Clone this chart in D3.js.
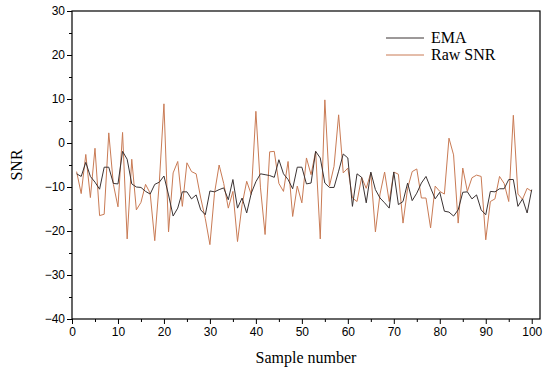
<!DOCTYPE html>
<html>
<head>
<meta charset="utf-8">
<script src="https://cdn.jsdelivr.net/npm/d3@7.9.0/dist/d3.min.js"></script>
<style>
  body { margin: 0; background: #fff; }
  svg { display: block; }
  .tick text { font-family: "Liberation Sans", Arial, sans-serif; font-size: 12px; fill: #000; }
  .title { font-family: "Liberation Serif", "DejaVu Serif", serif; font-size: 16px; fill: #000; }
</style>
</head>
<body>
<svg id="chart" width="550" height="375"></svg>
<script>
// sample numbers 1..100
const samples = d3.range(1, 101);

const rawSNR = [
  -6.5, -11.5, -2.6, -12.4, -1.2, -16.5, -16.2, 2.3, -9.4, -14.5,
  2.4, -21.8, -3.7, -15.2, -13.5, -9.4, -11.4, -22.2, -8.8, 8.9,
  -20.2, -6.8, -4.2, -14.4, -4.5, -6.5, -7.0, -12.5, -17.2, -23.1,
  -11.4, -5.0, -9.2, -14.8, -11.0, -22.4, -14.0, -8.7, -11.7, 7.2,
  -10.2, -20.8, -2.0, -1.9, -9.2, -11.0, -4.2, -16.7, -9.8, -13.6,
  -3.4, -7.2, -1.9, -21.8, 9.8, -9.8, -5.3, 6.4, -6.8, -5.7,
  -12.5, -13.3, -7.8, -10.3, -6.8, -20.2, -11.6, -6.6, -13.3, -6.6,
  -7.1, -18.2, -10.3, -6.5, -5.9, -12.5, -12.5, -19.3, -9.8, -11.0,
  -11.6, 1.1, -2.7, -18.2, -5.7, -11.0, -7.9, -7.3, -7.6, -22.0,
  -13.3, -12.7, -7.6, -9.2, -13.3, 6.3, -11.6, -12.8, -10.3, -11.0
];

const ema = [
  -7.0, -7.6, -4.4, -7.6, -8.9, -10.5, -5.5, -5.5, -9.2, -9.3,
  -1.9, -3.7, -9.3, -10.0, -10.1, -11.0, -11.6, -9.4, -8.9, -7.5,
  -11.8, -16.6, -14.8, -11.1, -11.1, -12.7, -11.8, -15.2, -16.3, -10.9,
  -11.1, -10.6, -10.2, -12.9, -8.3, -14.8, -12.5, -15.9, -11.4, -8.8,
  -7.0, -7.2, -7.4, -7.8, -3.8, -7.0, -8.3, -10.4, -5.5, -5.5,
  -9.3, -9.1, -1.9, -3.4, -9.1, -10.1, -10.1, -6.4, -2.5, -3.4,
  -14.4, -7.0, -7.8, -13.6, -6.6, -10.6, -12.5, -13.6, -14.8, -6.6,
  -14.0, -13.3, -9.1, -13.1, -11.4, -9.1, -7.6, -10.2, -12.7, -11.2,
  -15.5, -15.7, -16.6, -15.2, -11.2, -11.1, -12.7, -11.8, -15.2, -16.3,
  -11.0, -11.1, -10.4, -10.4, -8.3, -8.3, -14.4, -12.7, -15.9, -10.6
];

const xTicks = d3.range(0, 101, 10);
const yTicks = d3.range(-40, 31, 10);
const seriesNames = ["EMA", "Raw SNR"];
const seriesColors = ["#3b3333", "#c97b55"];

const svg = d3.select("#chart");
const margin = { left: 72, right: 10, top: 11, bottom: 56 };
const W = 550, H = 375;

const x = d3.scaleLinear().domain([0, 101.8]).range([margin.left, W - margin.right]);
const y = d3.scaleLinear().domain([-40, 30]).range([H - margin.bottom, margin.top]);

// x axis with minor ticks
svg.append("g")
  .attr("transform", `translate(0,${y(-40)})`)
  .call(d3.axisBottom(x).tickValues(d3.range(5, 101, 10)).tickSize(3).tickFormat(""))
  .call(g => g.select(".domain").remove());
svg.append("g")
  .attr("transform", `translate(0,${y(-40)})`)
  .call(d3.axisBottom(x).tickValues(xTicks).tickSize(5).tickPadding(3))
  .call(g => g.select(".domain").remove());

// y axis with minor ticks
svg.append("g")
  .attr("transform", `translate(${x(0)},0)`)
  .call(d3.axisLeft(y).tickValues(d3.range(-35, 30, 10)).tickSize(3).tickFormat(""))
  .call(g => g.select(".domain").remove());
svg.append("g")
  .attr("transform", `translate(${x(0)},0)`)
  .call(d3.axisLeft(y).tickValues(yTicks).tickSize(5).tickPadding(2))
  .call(g => g.select(".domain").remove());

// frame
svg.append("rect")
  .attr("x", x(0)).attr("y", y(30))
  .attr("width", x(101.8) - x(0)).attr("height", y(-40) - y(30))
  .attr("fill", "none").attr("stroke", "#000").attr("stroke-width", 1.2);

const line = d3.line().x((d, i) => x(samples[i])).y(d => y(d));

svg.append("path").datum(rawSNR)
  .attr("d", line).attr("fill", "none")
  .attr("stroke", seriesColors[1]).attr("stroke-width", 1);
svg.append("path").datum(ema)
  .attr("d", line).attr("fill", "none")
  .attr("stroke", seriesColors[0]).attr("stroke-width", 1);

// legend
const leg = svg.append("g");
seriesNames.forEach((name, i) => {
  const ly = 38 + i * 17;
  leg.append("line").attr("x1", 386).attr("x2", 424).attr("y1", ly).attr("y2", ly)
    .attr("stroke", seriesColors[i]).attr("stroke-width", 1);
  leg.append("text").attr("class", "title").attr("x", 431).attr("y", ly + 5).text(name);
});

// axis titles
svg.append("text").attr("class", "title")
  .attr("x", (x(0) + x(101.8)) / 2).attr("y", 363)
  .attr("text-anchor", "middle").text("Sample number");
svg.append("text").attr("class", "title")
  .attr("transform", `translate(22,${y(-5)}) rotate(-90)`)
  .attr("text-anchor", "middle").text("SNR");
</script>
</body>
</html>
